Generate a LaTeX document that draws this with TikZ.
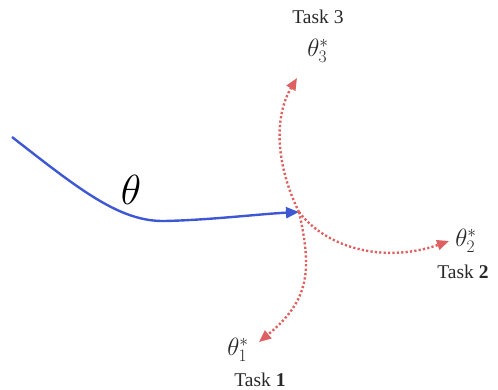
\RequirePackage{fix-cm}
\documentclass[tikz,border=0pt]{standalone}
\usepackage{fontspec}
\newfontfamily\taskfont{Liberation Serif}
\usetikzlibrary{arrows.meta}
\definecolor{pathblue}{RGB}{62,88,212}
\definecolor{taskred}{RGB}{222,96,96}
\definecolor{txt}{RGB}{40,40,40}
\tikzset{
  blueline/.style={draw=pathblue, line width=2.4pt, -{Triangle[length=13pt,width=11pt]}},
  redline/.style={draw=taskred, line width=2.4pt, dash pattern=on 2.2pt off 2.2pt, -{Triangle[length=12pt,width=10pt]}},
  tasklbl/.style={text=txt, font=\taskfont\fontsize{19.5}{21}\selectfont, inner sep=0pt},
  optlbl/.style={text=txt, font=\fontsize{25}{27}\selectfont, inner sep=0pt},
}
\begin{document}
\begin{tikzpicture}[x=1pt,y=-1pt]
\useasboundingbox (0,0) rectangle (498,390);
\coordinate (S) at (12,137);
\coordinate (B) at (165,221);
\coordinate (J) at (299,212);
\coordinate (T3) at (297,78);
\coordinate (T2) at (449,241);
\coordinate (T1) at (259,342);
\draw[blueline] (S) .. controls (80,190) and (120,222) .. (B)
  .. controls (210,220) and (260,214) .. (J);
\node[text=black, font=\fontsize{42}{44}\selectfont, inner sep=0pt] (theta) at (131,190) {$\theta$};
\draw[redline] (J) .. controls (278,170) and (272,120) .. (T3);
\draw[redline] (J) .. controls (330,252) and (390,262) .. (T2);
\draw[redline] (J) .. controls (312,270) and (310,300) .. (T1);
\node[tasklbl] (task3) at (318,17) {Task 3};
\node[optlbl] (opt3) at (318,51) {$\theta_3^*$};
\node[optlbl] (opt2) at (466,241) {$\theta_2^*$};
\node[tasklbl] (task2) at (463,272) {Task \textbf{2}};
\node[optlbl] (opt1) at (238,350) {$\theta_1^*$};
\node[tasklbl] (task1) at (260,380) {Task \textbf{1}};
\end{tikzpicture}
\end{document}
